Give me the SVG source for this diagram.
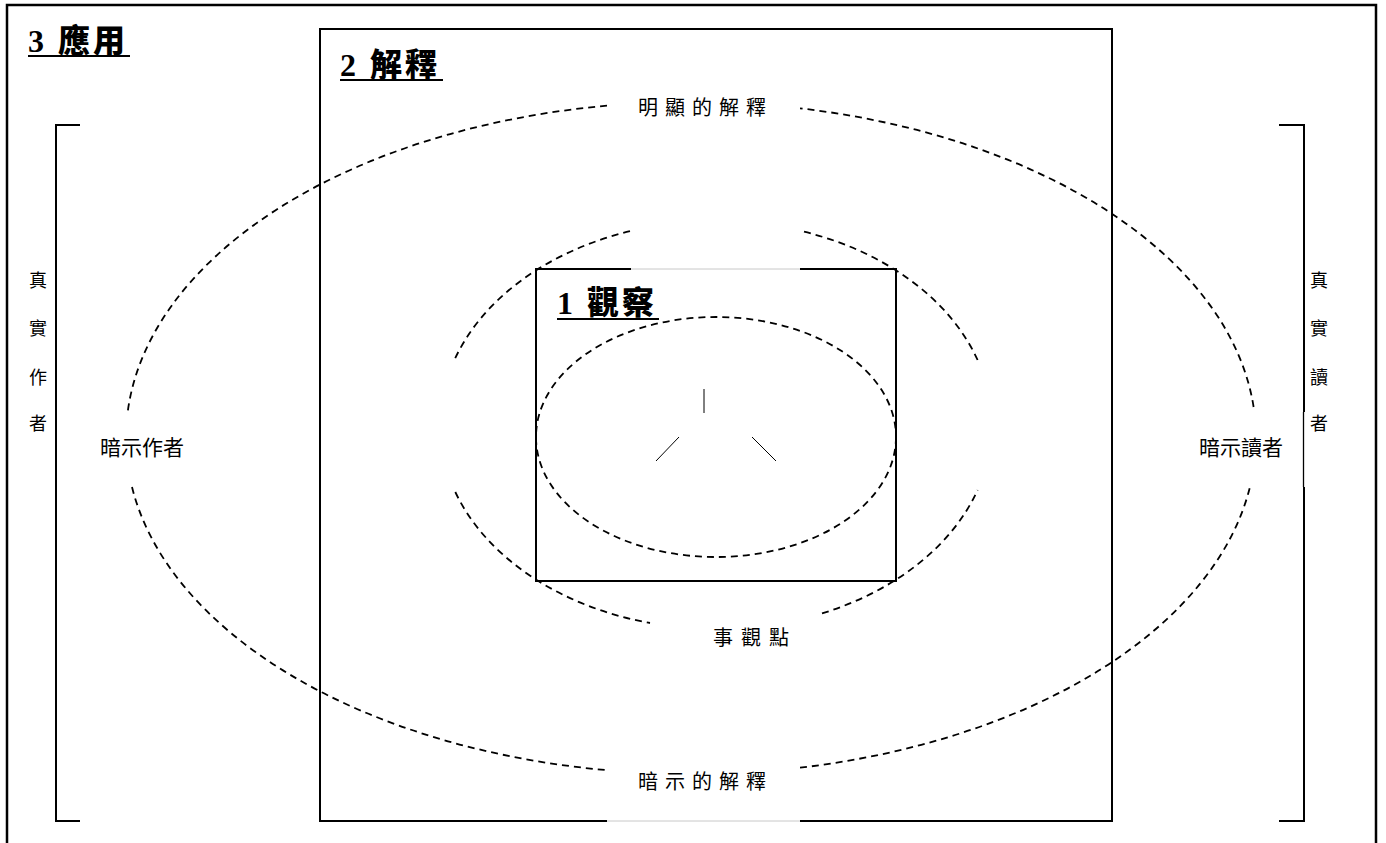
<svg xmlns="http://www.w3.org/2000/svg" width="1386" height="843" viewBox="0 0 1386 843">
<style>
.solid{fill:none;stroke:#000;stroke-width:2}
.faint{fill:none;stroke:#c8c8c8;stroke-width:1}
.dash{fill:none;stroke:#000;stroke-width:1.8;stroke-dasharray:7 5}
.thin{fill:none;stroke:#000;stroke-width:1}
.title{font-family:"Liberation Serif","Noto Sans CJK TC",serif;font-weight:900;font-size:32px;letter-spacing:3px;fill:#000}
.lbl{font-family:"Noto Sans CJK TC","Noto Sans CJK SC",sans-serif;font-size:20px;fill:#000}
.sp{letter-spacing:7px}
.vert{font-family:"Noto Sans CJK TC","Noto Sans CJK SC",sans-serif;font-size:18px;fill:#000;text-anchor:middle}
</style>
<rect width="1386" height="843" fill="#fff"/>

<g id="frame-3">
<path d="M7,850 V5 H1376 V850" fill="none" stroke="#000" stroke-width="2.5"/>
<text class="title" x="28" y="52">3 應用</text>
<line x1="28" y1="56" x2="130" y2="56" stroke="#000" stroke-width="2"/>
</g>

<g id="box-2">
<path class="solid" d="M607,821 H320 V29 H1112 V821 H800"/>
<line class="faint" x1="607" y1="821" x2="800" y2="821"/>
<text class="title" x="340" y="76">2 解釋</text>
<line x1="340" y1="80" x2="443" y2="80" stroke="#000" stroke-width="2"/>
</g>

<g id="box-1">
<path class="solid" d="M631,269 H536 V581 H896 V269 H800"/>
<line class="faint" x1="631" y1="269" x2="800" y2="269"/>
<text class="title" x="557" y="314">1 觀察</text>
<line x1="557" y1="319" x2="659" y2="319" stroke="#000" stroke-width="2"/>
</g>

<g id="bracket-author">
<path class="solid" d="M80,125 H56 V821 H80"/>
<text class="vert" x="38" y="287">真</text>
<text class="vert" x="38" y="335">實</text>
<text class="vert" x="38" y="384">作</text>
<text class="vert" x="38" y="430">者</text>
</g>

<g id="bracket-reader">
<path class="solid" d="M1279,125 H1304 V412"/>
<line x1="1303.5" y1="412" x2="1303.5" y2="487" stroke="#000" stroke-width="1.3"/>
<path class="solid" d="M1304,487 V821 H1279"/>
<text class="vert" x="1319" y="287">真</text>
<text class="vert" x="1319" y="335">實</text>
<text class="vert" x="1319" y="384">讀</text>
<text class="vert" x="1319" y="430">者</text>
</g>

<g id="connectors">
<path class="dash" d="M607,105.7 A565,336 0 0 0 127.7,412"/>
<path class="dash" d="M132,487 A565,336 0 0 0 605,770"/>
<path class="dash" d="M800,767.7 A565,336 0 0 0 1249.7,488"/>
<path class="dash" d="M1253.6,407 A565,336 0 0 0 800,108.3"/>
<path class="dash" d="M630,231.2 A276,204 0 0 0 453.5,362"/>
<path class="dash" d="M455.3,492 A276,204 0 0 0 650,623"/>
<path class="dash" d="M822,613.4 A276,204 0 0 0 977.6,490"/>
<path class="dash" d="M977.6,360 A276,204 0 0 0 800,230.7"/>
<ellipse class="dash" cx="716" cy="437" rx="180" ry="120"/>
<line class="thin" x1="704" y1="389" x2="704" y2="413"/>
<line class="thin" x1="656" y1="461" x2="679" y2="437"/>
<line class="thin" x1="752" y1="437" x2="776" y2="461"/>
</g>

<g id="label-explicit"><text class="lbl sp" x="638" y="115">明顯的解釋</text></g>
<g id="label-implicit"><text class="lbl sp" x="638" y="789">暗示的解釋</text></g>
<g id="label-event"><text class="lbl" x="713" y="645" style="letter-spacing:8px">事觀點</text></g>
<g id="label-implied-author"><text class="lbl" x="100" y="455" style="font-size:21px">暗示作者</text></g>
<g id="label-implied-reader"><text class="lbl" x="1199" y="455" style="font-size:21px">暗示讀者</text></g>
</svg>
